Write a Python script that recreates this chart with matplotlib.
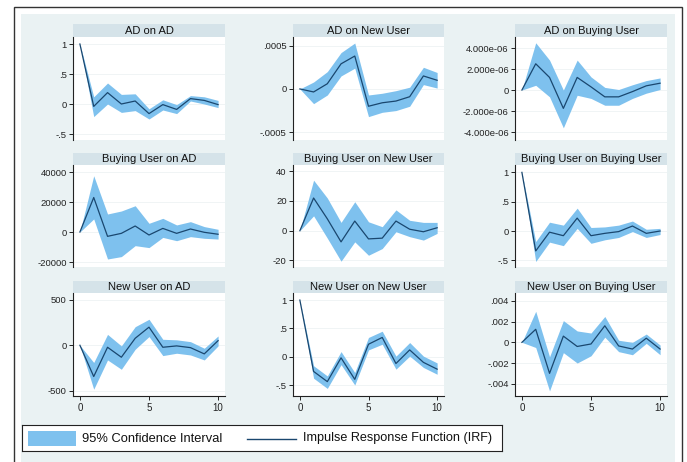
import matplotlib
matplotlib.use("Agg")
import matplotlib.pyplot as plt
from matplotlib.patches import Rectangle
from matplotlib.lines import Line2D

plt.rcParams['font.family'] = ['Liberation Sans', 'DejaVu Sans']

steps = [0, 1, 2, 3, 4, 5, 6, 7, 8, 9, 10]
x_ticks = [0, 5, 10]

titles = ["AD on AD", "AD on New User", "AD on Buying User",
          "Buying User on AD", "Buying User on New User", "Buying User on Buying User",
          "New User on AD", "New User on New User", "New User on Buying User"]

irf_ad_ad = [1, -0.04, 0.19, 0.0, 0.05, -0.16, -0.01, -0.09, 0.09, 0.06, -0.01]
hi_ad_ad = [1, 0.12, 0.35, 0.16, 0.17, -0.08, 0.07, -0.01, 0.14, 0.12, 0.06]
lo_ad_ad = [1, -0.21, 0.0, -0.14, -0.11, -0.25, -0.10, -0.16, 0.05, 0.0, -0.06]

irf_ad_new = [0, -0.000035, 0.00006, 0.00029, 0.00038, -0.0002, -0.00016, -0.00014, -0.00009, 0.00015, 0.0001]
hi_ad_new = [0, 0.00008, 0.0002, 0.00042, 0.00053, -0.00007, -0.00005, -0.00002, 0.00002, 0.00025, 0.00019]
lo_ad_new = [0, -0.00017, -0.00007, 0.00015, 0.00024, -0.00032, -0.00027, -0.00025, -0.0002, 0.00005, 0.00001]

irf_ad_buy = [0, 2.5e-6, 1.2e-6, -1.75e-6, 1.2e-6, 0.3e-6, -0.65e-6, -0.65e-6, -0.15e-6, 0.4e-6, 0.65e-6]
hi_ad_buy = [0, 4.5e-6, 2.85e-6, 0.0, 2.85e-6, 1.25e-6, 0.25e-6, 0.05e-6, 0.5e-6, 0.9e-6, 1.15e-6]
lo_ad_buy = [0, 0.45e-6, -0.65e-6, -3.6e-6, -0.5e-6, -0.8e-6, -1.45e-6, -1.45e-6, -0.8e-6, -0.3e-6, 0.05e-6]

irf_buy_ad = [0, 23000, -2900, -900, 4000, -2000, 2400, -900, 2000, -200, -1500]
hi_buy_ad = [0, 37500, 12000, 14000, 17500, 5800, 9100, 4700, 6900, 3600, 1800]
lo_buy_ad = [0, 8700, -18000, -16400, -9100, -10400, -3600, -5800, -3100, -4200, -4700]

irf_buy_new = [0, 22, 8, -7.5, 6.5, -5.5, -5, 6.5, 1, -0.7, 2]
hi_buy_new = [0, 34, 22, 5.6, 19.5, 6, 2.7, 14, 7, 5.6, 5.6]
lo_buy_new = [0, 10, -5, -20.5, -7.5, -16.5, -12, -0.7, -4, -6.3, -1.8]

irf_buy_buy = [1, -0.34, -0.02, -0.08, 0.22, -0.08, -0.04, -0.01, 0.085, -0.04, 0.0]
hi_buy_buy = [1, -0.18, 0.15, 0.10, 0.39, 0.06, 0.07, 0.10, 0.17, 0.03, 0.045]
lo_buy_buy = [1, -0.52, -0.19, -0.25, 0.045, -0.21, -0.15, -0.11, -0.01, -0.11, -0.06]

irf_new_ad = [0, -345, -22, -132, 77, 200, -22, -7, -26, -95, 51]
hi_new_ad = [0, -190, 120, -7, 205, 287, 66, 60, 40, -33, 103]
lo_new_ad = [0, -485, -162, -265, -44, 96, -114, -88, -107, -162, -7]

irf_new_new = [1, -0.26, -0.44, -0.02, -0.40, 0.22, 0.34, -0.12, 0.12, -0.10, -0.22]
hi_new_new = [1, -0.16, -0.34, 0.09, -0.28, 0.34, 0.45, 0.01, 0.25, 0.01, -0.11]
lo_new_new = [1, -0.38, -0.56, -0.14, -0.50, 0.12, 0.22, -0.22, 0.01, -0.19, -0.31]

irf_new_buy = [0, 0.00126, -0.003, 0.0006, -0.0004, -0.00016, 0.0016, -0.00035, -0.00065, 0.0004, -0.00065]
hi_new_buy = [0, 0.003, -0.0014, 0.0021, 0.0011, 0.0009, 0.0025, 0.0002, 0.0, 0.0008, -0.00026]
lo_new_buy = [0, -0.0005, -0.0047, -0.001, -0.002, -0.0013, 0.0005, -0.0009, -0.0012, -0.0001, -0.0012]

yticks = [
    ([-0.5, 0, 0.5, 1], ["-.5", "0", ".5", "1"]),
    ([-0.0005, 0, 0.0005], ["-.0005", "0", ".0005"]),
    ([-4e-6, -2e-6, 0, 2e-6, 4e-6], ["-4.000e-06", "-2.000e-06", "0", "2.000e-06", "4.000e-06"]),
    ([-20000, 0, 20000, 40000], ["-20000", "0", "20000", "40000"]),
    ([-20, 0, 20, 40], ["-20", "0", "20", "40"]),
    ([-0.5, 0, 0.5, 1], ["-.5", "0", ".5", "1"]),
    ([-500, 0, 500], ["-500", "0", "500"]),
    ([-0.5, 0, 0.5, 1], ["-.5", "0", ".5", "1"]),
    ([-0.004, -0.002, 0, 0.002, 0.004], ["-.004", "-.002", "0", ".002", ".004"]),
]
ylims = [(-0.6, 1.117), (-0.00059, 0.0006), (-4.76e-6, 5.05e-6),
         (-23333, 44667), (-24.4, 44.2), (-0.614, 1.126),
         (-560, 577), (-0.694, 1.125), (-0.00519, 0.00477)]

series = [(irf_ad_ad, lo_ad_ad, hi_ad_ad), (irf_ad_new, lo_ad_new, hi_ad_new), (irf_ad_buy, lo_ad_buy, hi_ad_buy),
          (irf_buy_ad, lo_buy_ad, hi_buy_ad), (irf_buy_new, lo_buy_new, hi_buy_new), (irf_buy_buy, lo_buy_buy, hi_buy_buy),
          (irf_new_ad, lo_new_ad, hi_new_ad), (irf_new_new, lo_new_new, hi_new_new), (irf_new_buy, lo_new_buy, hi_new_buy)]

W, H = 687, 462
fig = plt.figure(figsize=(W / 100, H / 100), dpi=100)
fig.patch.set_facecolor('white')

BG = '#EAF2F3'
TITLE_BG = '#D5E3E9'
BAND = '#7EC1EE'
LINE = '#1A476F'

# outer frame and graph region
fig.patches.append(Rectangle((14 / W, -0.01), (682 - 14) / W, (H - 7) / H + 0.01, transform=fig.transFigure,
                             facecolor='white', edgecolor='#333333', linewidth=1.0, zorder=-3))
fig.patches.append(Rectangle((21 / W, -0.01), (675 - 21) / W, (H - 14) / H + 0.01, transform=fig.transFigure,
                             facecolor=BG, edgecolor='none', zorder=-2))

col_left = [73, 293, 515]
col_w = [152, 151, 152]
row_top = [37, 165, 293]
row_bot = [140, 267, 396]
title_h = 12.5

for i in range(9):
    r, c = divmod(i, 3)
    left = col_left[c] / W
    bottom = 1 - row_bot[r] / H
    width = col_w[c] / W
    height = (row_bot[r] - row_top[r]) / H
    ax = fig.add_axes([left, bottom, width, height])
    ax.set_facecolor('white')
    irf, lo, hi = series[i]
    ax.fill_between(steps, lo, hi, color=BAND, linewidth=0, zorder=2)
    ax.plot(steps, irf, color=LINE, linewidth=0.9, zorder=3)
    ax.set_xlim(-0.5, 10.5)
    ax.set_ylim(*ylims[i])
    ticks, labels = yticks[i]
    ax.set_yticks(ticks)
    ax.set_yticklabels(labels)
    for t in ticks:
        ax.axhline(t, color='#EEF3F4', linewidth=0.6, zorder=1)
    for s in ['top', 'right']:
        ax.spines[s].set_visible(False)
    ax.spines['left'].set_color('#222222')
    ax.spines['left'].set_linewidth(0.8)
    ax.tick_params(axis='y', labelsize=6.8, length=3, width=0.7, pad=1.5, colors='#222222')
    if r == 2:
        ax.set_xticks(x_ticks)
        ax.set_xticklabels([str(v) for v in x_ticks])
        ax.spines['bottom'].set_color('#222222')
        ax.spines['bottom'].set_linewidth(0.8)
        ax.tick_params(axis='x', labelsize=7, length=3, width=0.7, pad=2, colors='#222222')
    else:
        ax.spines['bottom'].set_visible(False)
        ax.set_xticks([])
    th = title_h / (row_bot[r] - row_top[r])
    ax.add_patch(Rectangle((0, 1), 1, th, transform=ax.transAxes, clip_on=False,
                           facecolor=TITLE_BG, edgecolor='none'))
    ax.text(0.5, 1 + th / 2, titles[i], transform=ax.transAxes, ha='center', va='center',
            fontsize=8, color='#111111')

# legend box
lax = fig.add_axes([22 / W, 1 - 451 / H, (502 - 22) / W, 26 / H])
lax.set_xlim(0, 480)
lax.set_ylim(0, 26)
lax.set_facecolor('white')
lax.set_xticks([])
lax.set_yticks([])
for s in lax.spines.values():
    s.set_color('#222222')
    s.set_linewidth(0.8)
lax.add_patch(Rectangle((6, 5), 48, 15, facecolor=BAND, edgecolor='none'))
lax.text(60, 12.5, "95% Confidence Interval", ha='left', va='center', fontsize=9.3, color='#111111')
lax.add_line(Line2D([225, 274], [12.5, 12.5], color=LINE, linewidth=1.0))
lax.text(281, 12.5, "Impulse Response Function (IRF)", ha='left', va='center', fontsize=9.1, color='#111111')

fig.savefig("out.png", dpi=100, facecolor=fig.get_facecolor())
